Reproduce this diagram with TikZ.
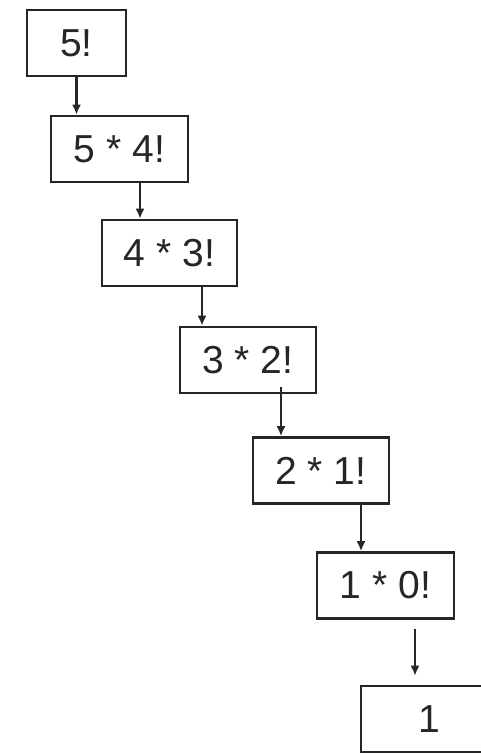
\documentclass[tikz,border=0pt]{standalone}
\usepackage{fontspec}
\setmainfont{Liberation Sans}
\usetikzlibrary{arrows.meta}
\begin{document}
\begin{tikzpicture}[x=1pt,y=-1pt,
  box/.style={draw=black!85, line width=2.6pt, minimum height=66pt, inner sep=0pt,
    font=\fontsize{39}{41}\selectfont, text=black!85},
  arr/.style={draw=black!85, line width=2.2pt, -{Latex[length=10pt,width=9pt]}}]
\useasboundingbox (0,0) rectangle (481,754);
\fill[white] (0,0) rectangle (481,754);
\clip (0,0) rectangle (481,754);
\node[box, minimum width=99pt]  (b1) at (76.5,43)   {5!};
\node[box, minimum width=137pt] (b2) at (119.5,149) {5 * 4!};
\node[box, minimum width=135pt] (b3) at (169.5,253) {4 * 3!};
\node[box, minimum width=136pt] (b4) at (248,360)   {3 * 2!};
\node[box, minimum width=136pt] (b5) at (321,470.5) {2 * 1!};
\node[box, minimum width=137pt] (b6) at (385.5,585.5) {1 * 0!};
\node[box, minimum width=137pt] (b7) at (429.5,719) {1};
\draw[arr] (b1.south) -- (b1.south |- b2.north);
\draw[arr] ([xshift=20.5pt]b2.south) -- ([xshift=20.5pt]b2.south |- b3.north);
\draw[arr] ([xshift=32.5pt]b3.south) -- ([xshift=32.5pt]b3.south |- b4.north);
\draw[arr] ([xshift=33pt,yshift=7pt]b4.south) -- ([xshift=33pt]b4.south |- b5.north);
\draw[arr] ([xshift=40pt]b5.south) -- ([xshift=40pt]b5.south |- b6.north);
\draw[arr] ([xshift=29.5pt,yshift=-9pt]b6.south) -- ([xshift=29.5pt,yshift=9pt]b6.south |- b7.north);
\end{tikzpicture}
\end{document}
